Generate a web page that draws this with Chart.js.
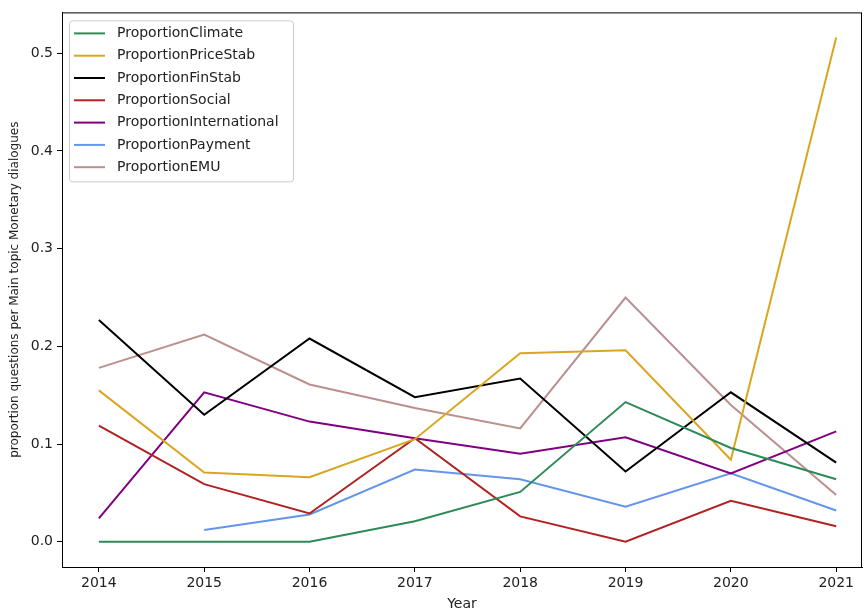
<!DOCTYPE html>
<html>
<head>
<meta charset="utf-8">
<script src="https://cdn.jsdelivr.net/npm/chart.js@4/dist/chart.umd.min.js"></script>
<style>
  html, body { margin: 0; padding: 0; background: #fff; }
  #wrap { width: 864px; height: 613px; }
</style>
</head>
<body>
<div id="wrap"><canvas id="chart" width="864" height="613"></canvas></div>
<script>
const years = [2014, 2015, 2016, 2017, 2018, 2019, 2020, 2021];

const climate = [0, 0, 0, 0.021, 0.051, 0.143, 0.096, 0.064];
const priceStab = [0.155, 0.071, 0.066, 0.105, 0.193, 0.196, 0.084, 0.516];
const finStab = [0.227, 0.130, 0.208, 0.148, 0.167, 0.072, 0.153, 0.081];
const social = [0.119, 0.059, 0.029, 0.106, 0.026, 0, 0.042, 0.016];
const international = [0.024, 0.153, 0.123, 0.106, 0.090, 0.107, 0.070, 0.113];
const payment = [null, 0.012, 0.028, 0.074, 0.064, 0.036, 0.070, 0.032];
const emu = [0.178, 0.212, 0.161, 0.137, 0.116, 0.250, 0.140, 0.048];

const yTicks = [0, 0.1, 0.2, 0.3, 0.4, 0.5];

const series = [
    { label: 'ProportionClimate', values: climate, color: '#2E8B57' },
    { label: 'ProportionPriceStab', values: priceStab, color: '#DAA520' },
    { label: 'ProportionFinStab', values: finStab, color: '#000000' },
    { label: 'ProportionSocial', values: social, color: '#B22222' },
    { label: 'ProportionInternational', values: international, color: '#800080' },
    { label: 'ProportionPayment', values: payment, color: '#6495ED' },
    { label: 'ProportionEMU', values: emu, color: '#BC8F8F' },
];

const font = 'DejaVu Sans';

// matplotlib-like legend box in the upper left of the axes
const boxLegend = {
    id: 'boxLegend',
    afterDraw(chart) {
        const ctx = chart.ctx;
        const area = chart.chartArea;
        const x = area.left + 7, y = area.top + 8, w = 224, h = 161;
        ctx.save();
        ctx.fillStyle = 'rgba(255,255,255,0.8)';
        ctx.strokeStyle = '#cccccc';
        ctx.lineWidth = 1;
        ctx.beginPath();
        ctx.roundRect(x + 0.5, y + 0.5, w, h, 3);
        ctx.fill();
        ctx.stroke();
        ctx.font = '14px "' + font + '"';
        ctx.textBaseline = 'middle';
        series.forEach((s, i) => {
            const ry = y + 13 + i * 22.3;
            ctx.strokeStyle = s.color;
            ctx.lineWidth = 2;
            ctx.beginPath();
            ctx.moveTo(x + 5, ry);
            ctx.lineTo(x + 36, ry);
            ctx.stroke();
            ctx.fillStyle = '#222';
            ctx.fillText(s.label, x + 48, ry);
        });
        ctx.restore();
    }
};

// full frame around the axes
const frame = {
    id: 'frame',
    afterDatasetsDraw(chart) {
        const ctx = chart.ctx;
        const a = chart.chartArea;
        ctx.save();
        ctx.strokeStyle = '#000';
        ctx.lineWidth = 1;
        ctx.strokeRect(a.left + 0.5, a.top + 0.5, a.right - a.left - 1, a.bottom - a.top);
        ctx.restore();
    }
};

const config = {
    type: 'line',
    data: {
        datasets: series.map(s => ({
            label: s.label,
            data: years.map((yr, i) => ({ x: yr, y: s.values[i] })),
            borderColor: s.color,
            backgroundColor: s.color,
            borderWidth: 2,
            pointRadius: 0,
            tension: 0,
            spanGaps: false,
        })),
    },
    options: {
        responsive: false,
        animation: false,
        layout: { padding: { top: 10, right: 2, left: 0, bottom: 0 } },
        plugins: {
            legend: { display: false },
            tooltip: { enabled: false },
        },
        scales: {
            x: {
                type: 'linear',
                min: 2013.65,
                max: 2021.245,
                afterBuildTicks: scale => { scale.ticks = years.map(v => ({ value: v })); },
                afterFit: scale => { scale.height = 46; },
                ticks: {
                    color: '#222',
                    padding: 3,
                    font: { family: font, size: 14 },
                    callback: v => String(v),
                },
                grid: {
                    drawOnChartArea: false,
                    drawTicks: true,
                    tickLength: 5,
                    tickColor: '#000',
                },
                border: { color: '#000' },
                title: {
                    display: true,
                    text: 'Year',
                    color: '#222',
                    font: { family: font, size: 14 },
                    padding: { top: 0, bottom: 0 },
                },
            },
            y: {
                min: -0.0258,
                max: 0.5418,
                afterBuildTicks: scale => { scale.ticks = yTicks.map(v => ({ value: v })); },
                afterFit: scale => { scale.width = 62; },
                ticks: {
                    color: '#222',
                    padding: 4,
                    font: { family: font, size: 14 },
                    callback: v => v.toFixed(1),
                },
                grid: {
                    drawOnChartArea: false,
                    drawTicks: true,
                    tickLength: 5,
                    tickColor: '#000',
                },
                border: { color: '#000' },
                title: {
                    display: true,
                    text: 'proportion questions per Main topic Monetary dialogues',
                    color: '#222',
                    font: { family: font, size: 12 },
                    padding: { top: 8, bottom: 0 },
                },
            },
        },
    },
    plugins: [frame, boxLegend],
};

const element = document.getElementById('chart');
const chart = new Chart(element, config);
</script>
</body>
</html>
